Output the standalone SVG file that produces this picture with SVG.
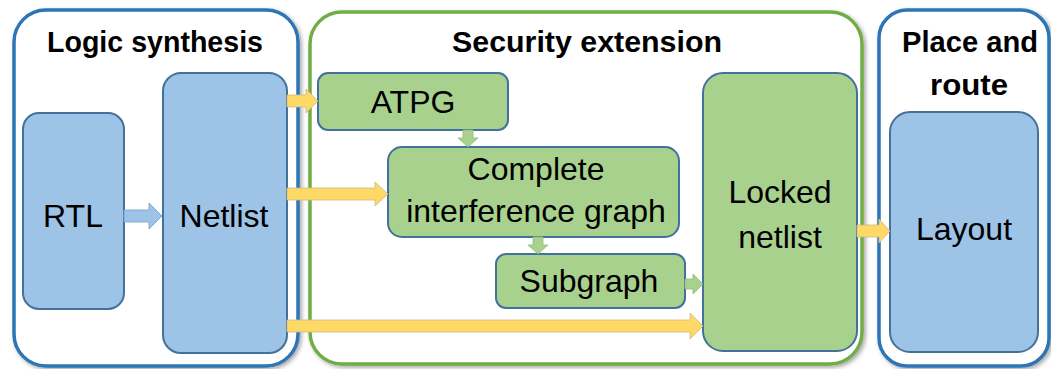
<svg xmlns="http://www.w3.org/2000/svg" width="1051" height="369" viewBox="0 0 1051 369">
<defs>
<filter id="sh" x="-5%" y="-5%" width="110%" height="110%">
<feDropShadow dx="2" dy="2" stdDeviation="2" flood-color="#000" flood-opacity="0.35"/>
</filter>
</defs>
<style>
.cb{fill:#fff;stroke:#2e75b6;stroke-width:3.5}
.cg{fill:#fff;stroke:#70ad47;stroke-width:3.5}
.nb{fill:#9dc3e6;stroke:#41719c;stroke-width:2}
.ng{fill:#a9d18e;stroke:#41719c;stroke-width:2}
.t{font-family:"Liberation Sans",Arial,sans-serif;font-size:32px;fill:#000;text-anchor:middle}
.h{font-family:"Liberation Sans",Arial,sans-serif;font-size:29px;font-weight:bold;fill:#000;text-anchor:middle}
.ay{fill:#ffd966;stroke:#c9b98a;stroke-width:0.8}
.ag{fill:#a9d18e;stroke:#8fbf73;stroke-width:0.8}
.ab{fill:#9dc3e6;stroke:#6f9fcc;stroke-width:0.8}
</style>
<g id="logic-synthesis">
<rect class="cb" x="14" y="10" width="284" height="356" rx="32" filter="url(#sh)"/>
<text class="h" x="155" y="52" textLength="216" lengthAdjust="spacingAndGlyphs">Logic synthesis</text>
</g>
<g id="security-extension">
<rect class="cg" x="310" y="12" width="552" height="352" rx="32" filter="url(#sh)"/>
<text class="h" x="587" y="52" textLength="270" lengthAdjust="spacingAndGlyphs">Security extension</text>
</g>
<g id="place-and-route">
<rect class="cb" x="879" y="10" width="170" height="356" rx="28" filter="url(#sh)"/>
<text class="h" x="970" y="52" textLength="136" lengthAdjust="spacingAndGlyphs">Place and</text>
<text class="h" x="969" y="95" textLength="78" lengthAdjust="spacingAndGlyphs">route</text>
</g>
<g id="rtl">
<rect class="nb" x="23" y="113" width="101" height="196" rx="16"/>
<text class="t" x="73" y="227">RTL</text>
</g>
<g id="netlist">
<rect class="nb" x="163" y="73" width="124" height="280" rx="18"/>
<text class="t" x="224" y="227">Netlist</text>
</g>
<g id="atpg">
<rect class="ng" x="318" y="73" width="190" height="57" rx="10"/>
<text class="t" x="413" y="113">ATPG</text>
</g>
<g id="complete-interference-graph">
<rect class="ng" x="388" y="147" width="291" height="90" rx="14"/>
<text class="t" x="536" y="180">Complete</text>
<text class="t" x="536" y="222">interference graph</text>
</g>
<g id="subgraph">
<rect class="ng" x="496" y="254" width="189" height="54" rx="10"/>
<text class="t" x="589" y="292">Subgraph</text>
</g>
<g id="locked-netlist">
<rect class="ng" x="703" y="73" width="154" height="278" rx="20"/>
<text class="t" x="780" y="203">Locked</text>
<text class="t" x="780" y="248">netlist</text>
</g>
<g id="layout">
<rect class="nb" x="890" y="112" width="148" height="240" rx="20"/>
<text class="t" x="964" y="240">Layout</text>
</g>
<g id="connectors">
<path class="ab" d="M124,210 H149 V203 L162,216 L149,229 V222 H124 Z"/>
<path class="ay" d="M287,95 H306 V89 L318,101 L306,113 V107 H287 Z"/>
<path class="ay" d="M287,188 H375 V182 L388,194 L375,206 V200 H287 Z"/>
<path class="ay" d="M287,320 H690 V313 L703,326 L690,339 V332 H287 Z"/>
<path class="ay" d="M857,225 H879 V219 L890,231 L879,243 V237 H857 Z"/>
<path class="ag" d="M463,130 V138 H458 L468,147 L478,138 H473 V130 Z"/>
<path class="ag" d="M533,237 V245 H528 L538,254 L548,245 H543 V237 Z"/>
<path class="ag" d="M685,279 H693 V274 L703,284 L693,294 V289 H685 Z"/>
</g>
</svg>
